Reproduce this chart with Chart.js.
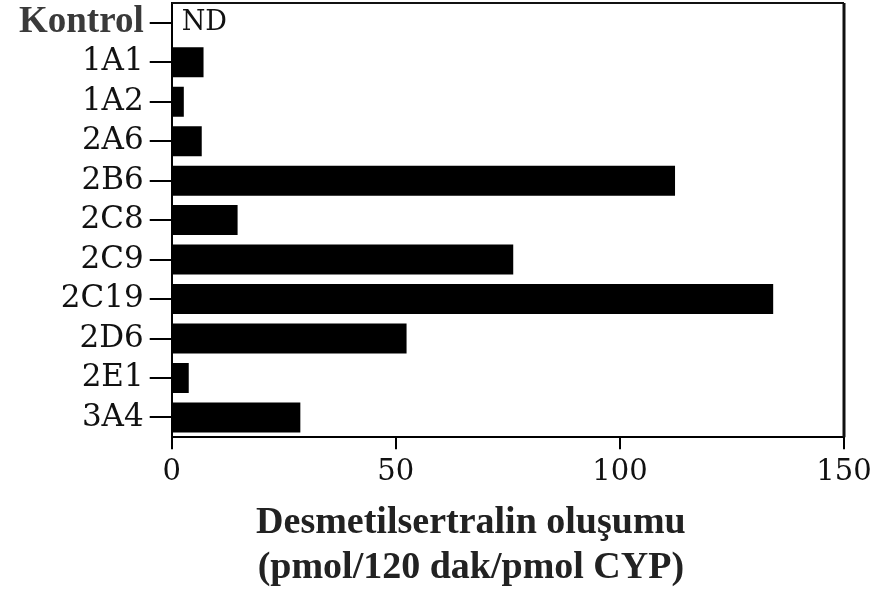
<!DOCTYPE html>
<html>
<head>
<meta charset="utf-8">
<title>Desmetilsertralin oluşumu</title>
<script src="https://cdn.jsdelivr.net/npm/chart.js@4/dist/chart.umd.min.js"></script>
<style>
    html, body { margin: 0; padding: 0; background: #fff; }
    #chartWrap { width: 886px; height: 589px; }
</style>
</head>
<body>
<div id="chartWrap"><canvas id="cypChart"></canvas></div>
<script>
// Chart data
const enzymes = ['Kontrol', '1A1', '1A2', '2A6', '2B6', '2C8', '2C9', '2C19', '2D6', '2E1', '3A4'];
const formation = [null, 7.1, 2.7, 6.7, 112.3, 14.7, 76.2, 134.2, 52.4, 3.8, 28.7];
const xMin = 0;
const xMax = 150;
const xStep = 50;
const notDetected = 'ND';
const titleLines = ['Desmetilsertralin oluşumu', '(pmol/120 dak/pmol CYP)'];

// Draws top/right frame, the ND note and the two-line axis title
const framePlugin = {
    id: 'frame',
    afterDraw(chart) {
        const { ctx, chartArea, scales } = chart;
        ctx.save();

        // Frame lines
        ctx.strokeStyle = '#111';
        ctx.lineWidth = 2;
        ctx.beginPath();
        ctx.moveTo(chartArea.left, chartArea.top);
        ctx.lineTo(chartArea.right, chartArea.top);
        ctx.stroke();
        ctx.lineWidth = 3;
        ctx.beginPath();
        ctx.moveTo(chartArea.right, chartArea.top);
        ctx.lineTo(chartArea.right, chartArea.bottom);
        ctx.stroke();

        // ND next to Kontrol
        ctx.fillStyle = '#111';
        ctx.font = '27px "DejaVu Serif"';
        ctx.textBaseline = 'middle';
        ctx.textAlign = 'left';
        ctx.fillText(notDetected, scales.x.getPixelForValue(0) + 10, scales.y.getPixelForValue(0));

        // Axis title
        ctx.fillStyle = '#222';
        ctx.font = 'bold 38px "Liberation Serif"';
        ctx.textAlign = 'center';
        const cx = chartArea.left + (chartArea.right - chartArea.left) * 0.445;
        titleLines.forEach((line, i) => {
            ctx.fillText(line, cx, chartArea.bottom + 86 + i * 45);
        });

        ctx.restore();
    }
};

// Initialize chart
function initChart() {
    const ctx = document.getElementById('cypChart').getContext('2d');
    new Chart(ctx, {
        type: 'bar',
        data: {
            labels: enzymes,
            datasets: [{
                data: formation,
                backgroundColor: '#000',
                borderWidth: 0,
                barPercentage: 0.76,
                categoryPercentage: 1
            }]
        },
        options: {
            indexAxis: 'y',
            responsive: true,
            maintainAspectRatio: false,
            animation: false,
            layout: {
                padding: { left: 13, top: 3, right: 42, bottom: 93 }
            },
            plugins: {
                legend: { display: false },
                tooltip: { enabled: false }
            },
            scales: {
                x: {
                    min: xMin,
                    max: xMax,
                    border: { color: '#000', width: 2 },
                    grid: {
                        drawOnChartArea: false,
                        color: '#000',
                        lineWidth: 2,
                        tickLength: 12
                    },
                    ticks: {
                        stepSize: xStep,
                        color: '#111',
                        padding: 6,
                        font: { family: 'DejaVu Serif', size: 29 }
                    }
                },
                y: {
                    border: { color: '#000', width: 2 },
                    grid: {
                        offset: false,
                        drawOnChartArea: false,
                        color: '#000',
                        lineWidth: 2,
                        tickLength: 22
                    },
                    ticks: {
                        autoSkip: false,
                        padding: 6,
                        color: (c) => c.index === 0 ? '#3a3a3a' : '#111',
                        font: (c) => c.index === 0
                            ? { family: 'Liberation Serif', size: 37, weight: 'bold' }
                            : { family: 'DejaVu Serif', size: 31 }
                    },
                    // labels sit inside the category band, no extra room needed
                    afterFit(scale) {
                        scale.paddingTop = 0;
                        scale.paddingBottom = 0;
                    }
                }
            }
        },
        plugins: [framePlugin]
    });
}

document.addEventListener('DOMContentLoaded', initChart);
</script>
</body>
</html>
